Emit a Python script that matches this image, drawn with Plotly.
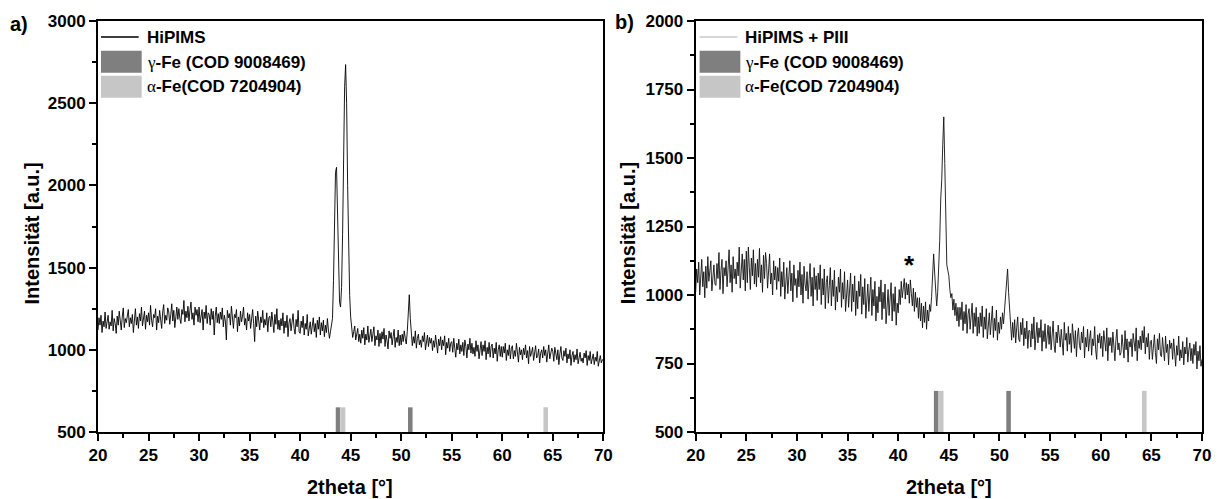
import numpy as np
import plotly.graph_objects as go
from plotly.subplots import make_subplots

# scan grid 20.0 .. 70.0 deg, step 0.1
two_theta = np.round(np.linspace(20.0, 70.0, 501), 1)

hipims = [
    1120, 1195, 1150, 1210, 1105, 1175, 1140, 1230, 1130, 1185,
    1210, 1125, 1170, 1145, 1240, 1115, 1190, 1160, 1100, 1205,
    1150, 1235, 1180, 1120, 1200, 1255, 1135, 1190, 1165, 1220,
    1245, 1140, 1195, 1160, 1215, 1105, 1185, 1250, 1150, 1200,
    1130, 1220, 1175, 1260, 1145, 1190, 1235, 1125, 1210, 1170,
    1225, 1150, 1270, 1180, 1140, 1215, 1195, 1250, 1120, 1205,
    1165, 1240, 1190, 1130, 1230, 1275, 1160, 1210, 1180, 1255,
    1230, 1155, 1215, 1280, 1175, 1240, 1135, 1220, 1260, 1185,
    1250, 1190, 1160, 1245, 1215, 1300, 1170, 1235, 1195, 1265,
    1175, 1240, 1290, 1185, 1225, 1150, 1260, 1210, 1245, 1170,
    1260, 1165, 1215, 1245, 1120, 1230, 1190, 1270, 1160, 1225,
    1215, 1150, 1250, 1185, 1235, 1090, 1205, 1260, 1165, 1220,
    1160, 1230, 1185, 1255, 1140, 1210, 1175, 1060, 1240, 1195,
    1220, 1150, 1265, 1175, 1130, 1215, 1195, 1245, 1110, 1200,
    1145, 1235, 1170, 1205, 1260, 1150, 1190, 1120, 1225, 1175,
    1215, 1130, 1195, 1245, 1160, 1050, 1205, 1140, 1235, 1180,
    1120, 1200, 1165, 1240, 1135, 1185, 1150, 1225, 1110, 1195,
    1205, 1140, 1230, 1170, 1105, 1215, 1155, 1250, 1125, 1180,
    1120, 1190, 1145, 1225, 1100, 1175, 1135, 1210, 1080, 1165,
    1190, 1115, 1165, 1220, 1130, 1095, 1185, 1140, 1240, 1110,
    1100, 1175, 1135, 1205, 1090, 1160, 1125, 1215, 1085, 1150,
    1170, 1095, 1145, 1195, 1110, 1160, 1075, 1180, 1125, 1200,
    1090, 1165, 1115, 1180, 1080, 1150, 1105, 1190, 1120, 1070,
    1110, 1150, 1190, 1420, 1800, 2080, 2110, 1820, 1450, 1290,
    1260, 1380, 1700, 2200, 2600, 2735, 2500, 2000, 1580, 1330,
    1200, 1130, 1075, 1110, 1145, 1060, 1100, 1130, 1050, 1095,
    1040, 1120, 1070, 1135, 1030, 1095, 1060, 1145, 1045, 1105,
    1125, 1050, 1090, 1140, 1025, 1085, 1060, 1120, 1020, 1100,
    1040, 1110, 1065, 1130, 1020, 1090, 1055, 1005, 1115, 1070,
    1105, 1030, 1080, 1125, 1015, 1075, 1045, 1120, 1025, 1090,
    1030, 1095, 1050, 1115, 1070, 1035, 1110, 1220, 1335, 1190,
    1100, 1025, 1080, 1040, 1115, 1010, 1070, 1095, 1030, 1060,
    1015, 1085, 1050, 1105, 1000, 1060, 1090, 1020, 1075, 1040,
    1070, 995, 1055, 1015, 1090, 1035, 980, 1065, 1025, 1080,
    1000, 1060, 1025, 1085, 970, 1045, 1010, 1070, 990, 1040,
    1050, 985, 1070, 1010, 955, 1040, 1000, 1065, 975, 1030,
    990, 1045, 965, 1060, 1020, 950, 1035, 1000, 1070, 980,
    1040, 975, 1015, 960, 1055, 990, 1030, 945, 1010, 1050,
    965, 1030, 990, 1055, 940, 1015, 975, 1045, 955, 1020,
    1035, 950, 1010, 975, 1045, 930, 1000, 1030, 960, 1020,
    955, 1020, 980, 1040, 935, 1000, 965, 1030, 945, 1010,
    1025, 945, 995, 960, 1040, 985, 925, 1015, 970, 1000,
    940, 1010, 970, 1030, 950, 995, 915, 1020, 960, 985,
    1015, 935, 990, 1025, 950, 965, 1005, 920, 980, 1000,
    950, 1020, 965, 1000, 925, 990, 1030, 945, 975, 1010,
    990, 930, 1015, 960, 940, 1000, 910, 975, 1020, 950,
    935, 995, 960, 1010, 920, 975, 945, 1000, 905, 965,
    990, 925, 970, 940, 1005, 915, 960, 985, 930, 950,
    920, 980, 950, 995, 905, 965, 935, 990, 915, 960,
    975, 910, 955, 930, 990, 900, 945, 965, 920, 940,
    935,
]

hipims_piii = [
    1010, 1095, 1045, 1120, 1000, 1075, 1130, 1030, 1085, 990,
    1105, 1025, 1140, 1050, 1080, 1125, 1015, 1070, 1110, 1040,
    1035, 1115, 1060, 1155, 1020, 1090, 1130, 1005, 1100, 1070,
    1125, 1030, 1085, 1165, 1045, 1110, 1010, 1140, 1060, 1095,
    1040, 1120, 1070, 1175, 1025, 1105, 1150, 1055, 1130, 1015,
    1160, 1045, 1175, 1100, 1020, 1135, 1070, 1165, 1040, 1115,
    1030, 1130, 1065, 1170, 1045, 1110, 1010, 1145, 1060, 1155,
    1115, 1025, 1095, 1150, 1040, 1080, 1000, 1125, 1055, 1105,
    1020, 1100, 1050, 1135, 995, 1085, 1030, 1120, 985, 1070,
    1100, 1005, 1070, 1125, 1015, 1080, 975, 1110, 1035, 1060,
    990, 1090, 1030, 1120, 1000, 1075, 970, 1105, 1040, 1015,
    1085, 985, 1055, 1115, 995, 1065, 960, 1100, 1020, 1070,
    980, 1080, 1020, 1110, 965, 1060, 1000, 1095, 950, 1045,
    1070, 970, 1035, 1100, 960, 1055, 995, 1090, 945, 1030,
    975, 1065, 1010, 1095, 955, 1045, 985, 1085, 940, 1025,
    1055, 955, 1020, 1080, 940, 1040, 975, 1070, 925, 1015,
    950, 1050, 995, 1075, 930, 1030, 965, 1060, 915, 1005,
    1040, 940, 1000, 1065, 925, 1020, 960, 1050, 905, 995,
    935, 1030, 975, 1055, 910, 1010, 950, 1040, 895, 985,
    1020, 925, 985, 1045, 905, 1005, 940, 1030, 890, 970,
    935, 1020, 965, 1050, 990, 1035, 1060, 985, 1045, 1000,
    1040, 970, 1055, 1005, 960, 1025, 940, 1010, 955, 990,
    915, 990, 905, 970, 880, 960, 900, 975, 875, 945,
    905, 965, 940, 995, 1060, 1150, 1080, 985, 960, 1010,
    1100, 1200, 1350, 1420, 1550, 1650, 1480, 1200, 1110, 1090,
    1070, 1020, 990, 1005, 945, 985, 925, 970, 905, 955,
    885, 955, 910, 975, 870, 940, 895, 965, 860, 930,
    950, 875, 925, 970, 860, 935, 885, 955, 850, 920,
    860, 935, 885, 960, 845, 920, 875, 950, 840, 905,
    935, 855, 910, 960, 845, 915, 870, 945, 835, 900,
    860, 920, 875, 935, 895, 945, 1000, 1060, 1095, 1010,
    935, 870, 835, 900, 845, 910, 825, 880, 920, 840,
    830, 900, 855, 915, 815, 880, 840, 905, 805, 870,
    870, 810, 895, 840, 920, 800, 865, 900, 825, 880,
    845, 910, 795, 870, 830, 895, 805, 860, 890, 820,
    885, 800, 850, 905, 815, 790, 865, 825, 890, 845,
    810, 875, 840, 780, 900, 835, 860, 795, 885, 820,
    860, 790, 895, 830, 805, 870, 775, 850, 880, 815,
    800, 865, 825, 885, 770, 845, 810, 875, 795, 840,
    870, 780, 840, 815, 885, 800, 765, 855, 825, 860,
    805, 850, 775, 870, 820, 795, 880, 760, 845, 815,
    845, 790, 865, 810, 760, 835, 875, 800, 825, 780,
    790, 855, 815, 770, 870, 800, 840, 755, 830, 810,
    840, 775, 860, 820, 795, 880, 760, 835, 805, 850,
    800, 870, 825, 885, 785, 845, 810, 860, 765, 830,
    835, 765, 815, 855, 790, 750, 840, 800, 860, 780,
    775, 845, 800, 760, 850, 790, 820, 745, 835, 805,
    825, 765, 840, 790, 740, 815, 780, 850, 760, 800,
    770, 830, 745, 810, 785, 845, 755, 800, 825, 760,
    805, 750, 820, 780, 830, 730, 795, 760, 815, 740,
    765,
]

# reference patterns (stick positions, top of stick in intensity units)
gamma_fe_pos = [43.75, 50.9]
gamma_fe_top = [650, 650]
alpha_fe_pos = [44.25, 64.3]
alpha_fe_top = [650, 650]
ref_base = 500

x_ticks = [20, 25, 30, 35, 40, 45, 50, 55, 60, 65, 70]
y_ticks_a = [500, 1000, 1500, 2000, 2500, 3000]
y_ticks_b = [500, 750, 1000, 1250, 1500, 1750, 2000]

W, H = 1223, 499
ML, MR, MT, MB = 98, 13, 19, 67
PW = W - ML - MR
PH = H - MT - MB

def px(x):
    return (x - ML) / PW

def py(y):
    return (H - MB - y) / PH

DARK = "#7f7f7f"
LIGHT = "#c6c6c6"
FONT = "Liberation Sans"

fig = make_subplots(rows=1, cols=2, horizontal_spacing=0.0)

for col, data, lc in [(1, hipims, "#000000"), (2, hipims_piii, "#111111")]:
    fig.add_trace(go.Scatter(x=two_theta, y=data, mode="lines",
                             line=dict(color=lc, width=0.9), showlegend=False,
                             hoverinfo="skip"), row=1, col=col)
    fig.add_trace(go.Bar(x=gamma_fe_pos, y=[t - ref_base for t in gamma_fe_top], base=ref_base,
                         width=0.45, marker=dict(color=DARK, line=dict(width=0)),
                         showlegend=False), row=1, col=col)
    fig.add_trace(go.Bar(x=alpha_fe_pos, y=[t - ref_base for t in alpha_fe_top], base=ref_base,
                         width=0.45, marker=dict(color=LIGHT, line=dict(width=0)),
                         showlegend=False), row=1, col=col)

dom_a = [0.0, px(607)]
dom_b = [px(700), 1.0]

axis_common = dict(showline=True, linewidth=2, linecolor="black", mirror=True,
                   ticks="outside", ticklen=7, tickwidth=2, tickcolor="black",
                   showgrid=False, zeroline=False,
                   tickfont=dict(family=FONT, size=17, color="black", weight="bold"))

def minor(vals):
    return dict(tickvals=vals, ticks="outside", ticklen=4, tickwidth=2, tickcolor="black")

fig.update_layout(
    width=W, height=H,
    margin=dict(l=ML, r=MR, t=MT, b=MB),
    paper_bgcolor="white", plot_bgcolor="white",
    barmode="overlay", showlegend=False,
    xaxis=dict(domain=dom_a, range=[20, 70], tickvals=x_ticks,
               minor=minor([v + 2.5 for v in x_ticks[:-1]]), **axis_common),
    xaxis2=dict(domain=dom_b, range=[20, 70], tickvals=x_ticks,
                minor=minor([v + 2.5 for v in x_ticks[:-1]]), **axis_common),
    yaxis=dict(range=[500, 3000], tickvals=y_ticks_a,
               minor=minor([v + 250 for v in y_ticks_a[:-1]]), **axis_common),
    yaxis2=dict(range=[500, 2000], tickvals=y_ticks_b,
                minor=minor([v + 125 for v in y_ticks_b[:-1]]), **axis_common),
)

annotations = []
shapes = []

def text(x, y, s, size=17, xanchor="center", angle=0):
    annotations.append(dict(x=px(x), y=py(y), xref="paper", yref="paper", text=s,
                            showarrow=False, xanchor=xanchor, yanchor="middle", textangle=angle,
                            font=dict(family=FONT, size=size, color="black", weight="bold")))

# panel labels
text(18, 22, "a)", size=20)
text(628, 20, "b)", size=20)
# axis titles
text(31, 232, "Intensität [a.u.]", size=20, angle=-90)
text(632, 232, "Intensität [a.u.]", size=20, angle=-90)
text(352, 487, "2theta [°]", size=20)
text(955, 487, "2theta [°]", size=20)
# asterisk
text(915, 264, "*", size=26)

GAM = '<span style="font-family:\'Liberation Serif\';font-weight:normal">γ</span>'
ALP = '<span style="font-family:\'Liberation Serif\';font-weight:normal">α</span>'

for x0, name, linecol in [(101, "HiPIMS", "#000000"), (704, "HiPIMS + PIII", "#c8c8c8")]:
    shapes.append(dict(type="line", xref="paper", yref="paper", x0=px(x0), x1=px(x0 + 38),
                       y0=py(35), y1=py(35), line=dict(color=linecol, width=1.5)))
    shapes.append(dict(type="rect", xref="paper", yref="paper", x0=px(x0), x1=px(x0 + 41),
                       y0=py(71), y1=py(49), line=dict(width=0), fillcolor=DARK))
    shapes.append(dict(type="rect", xref="paper", yref="paper", x0=px(x0), x1=px(x0 + 41),
                       y0=py(96), y1=py(74), line=dict(width=0), fillcolor=LIGHT))
    text(x0 + 44, 36, name, xanchor="left")
    text(x0 + 44, 61, GAM + "-Fe (COD 9008469)", xanchor="left")
    text(x0 + 44, 85, ALP + "-Fe(COD 7204904)", xanchor="left")

fig.update_layout(annotations=annotations, shapes=shapes)

fig.write_html("out.html")
